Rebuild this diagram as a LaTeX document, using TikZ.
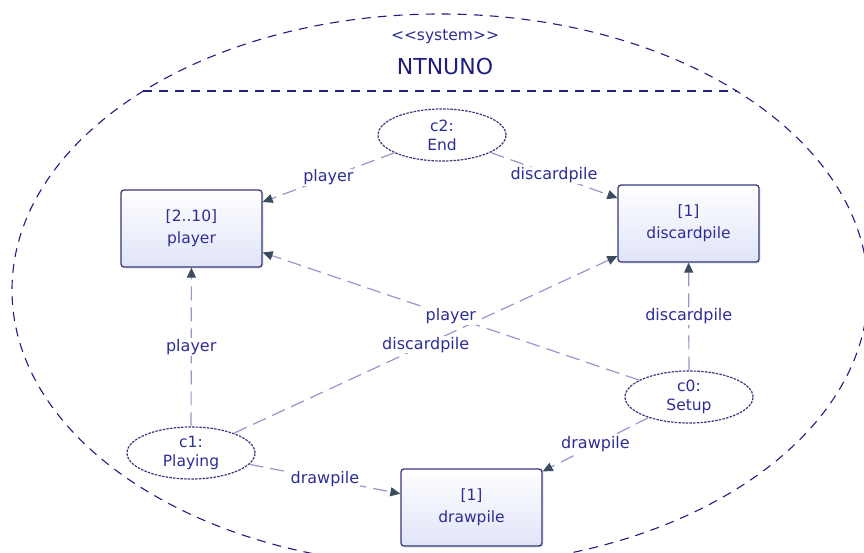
\documentclass[tikz,border=0pt]{standalone}
\usepackage{fontspec}
\setmainfont{DejaVu Sans}
\usetikzlibrary{shapes.geometric, arrows.meta, shadows}
\definecolor{cnavy}{RGB}{30,30,130}
\definecolor{ctext}{RGB}{45,45,150}
\definecolor{cborder}{RGB}{55,55,125}
\definecolor{cline}{RGB}{150,150,205}
\definecolor{ctip}{RGB}{60,75,95}
\definecolor{cfill}{RGB}{224,228,248}

\begin{document}
\begin{tikzpicture}[x=1pt, y=-1pt,
		part/.style={rectangle, rounded corners=3pt, draw=cborder, line width=1.3pt, top color=white, bottom color=cfill, minimum width=141pt, minimum height=77pt, align=center, text=ctext, font=\fontsize{15.5}{22}\selectfont, drop shadow={shadow xshift=1.5pt, shadow yshift=-1.5pt, opacity=0.2}},
		role/.style={ellipse, draw=cborder, line width=1.2pt, dash pattern=on 2.5pt off 1.2pt, fill=white, minimum width=128pt, minimum height=52pt, inner sep=0pt, align=center, text=ctext, font=\fontsize{15.5}{19}\selectfont},
		link/.style={draw=cline, line width=1.2pt, dash pattern=on 14pt off 7pt, -{Triangle[length=10pt, width=9pt, color=ctip]}},
		lbl/.style={midway, fill=white, inner sep=1pt, text=ctext, font=\fontsize{16}{18}\selectfont},
		bound/.style={draw=cnavy, line width=1.1pt, dash pattern=on 9pt off 7pt}]
		\draw[draw=none, use as bounding box] (0,0) rectangle (864,553);
		\clip (0,0) rectangle (864,553);

		% System boundary
		\draw[bound] (440,290) ellipse [x radius=428, y radius=276];
		\draw[bound] (143,91) -- (737,91);
		\node[text=ctext, font=\fontsize{15.5}{18}\selectfont] (stereo) at (445,37)
			{<\kern0pt<system>\kern0pt>};
		\node[text=cnavy, font=\fontsize{22}{26}\selectfont] (sysname) at (445,66)
			{NTNUNO};

		% Parts
		\node[part] (player) at (191.5,228.5) {[2..10]\\player};
		\node[part] (discardpile) at (688.5,223.5) {[1]\\discardpile};
		\node[part] (drawpile) at (471.5,507.5) {[1]\\drawpile};

		% Collaborations
		\node[role] (end) at (442,135) {c2:\\End};
		\node[role] (setup) at (689,397) {c0:\\Setup};
		\node[role] (playing) at (191,453) {c1:\\Playing};

		% Connectors
		\draw[link] (end) -- node[lbl] {player} (player);
		\draw[link] (end) -- node[lbl] {discardpile} (discardpile);
		\draw[link] (playing) -- node[lbl] {player} (player);
		\draw[link] (playing) -- node[lbl] {discardpile} (discardpile);
		\draw[link] (playing) -- node[lbl] {drawpile} (drawpile);
		\draw[link] (setup) -- node[lbl] {player} (player);
		\draw[link] (setup) -- node[lbl] {discardpile} (discardpile);
		\draw[link] (setup) -- node[lbl] {drawpile} (drawpile);

	\end{tikzpicture}
\end{document}
